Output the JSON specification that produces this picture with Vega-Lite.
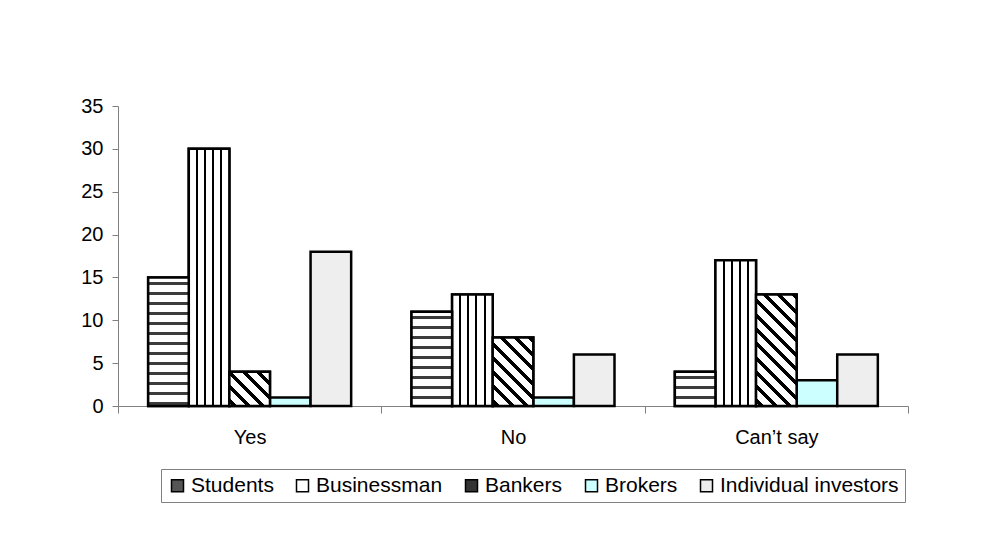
{
  "$schema": "https://vega.github.io/schema/vega-lite/v6.json",
  "width": 790,
  "height": 300,
  "autosize": {"type": "none"},
  "padding": {"left": 118, "top": 106, "right": 73, "bottom": 147},
  "background": "white",
  "config": {
    "font": "Liberation Sans",
    "view": {"stroke": null}
  },
  "data": {
    "values": [
      {"answer": "Yes", "group": "Students", "value": 15},
      {"answer": "Yes", "group": "Businessman", "value": 30},
      {"answer": "Yes", "group": "Bankers", "value": 4},
      {"answer": "Yes", "group": "Brokers", "value": 1},
      {"answer": "Yes", "group": "Individual investors", "value": 18},
      {"answer": "No", "group": "Students", "value": 11},
      {"answer": "No", "group": "Businessman", "value": 13},
      {"answer": "No", "group": "Bankers", "value": 8},
      {"answer": "No", "group": "Brokers", "value": 1},
      {"answer": "No", "group": "Individual investors", "value": 6},
      {"answer": "Can’t say", "group": "Students", "value": 4},
      {"answer": "Can’t say", "group": "Businessman", "value": 17},
      {"answer": "Can’t say", "group": "Bankers", "value": 13},
      {"answer": "Can’t say", "group": "Brokers", "value": 3},
      {"answer": "Can’t say", "group": "Individual investors", "value": 6}
    ]
  },
  "encoding": {
    "x": {
      "field": "answer", "type": "nominal",
      "scale": {"domain": ["Yes", "No", "Can’t say"], "paddingInner": 0, "paddingOuter": 0},
      "axis": {"title": null, "labelAngle": 0, "tickBand": "extent", "tickSize": 7, "tickColor": "#808080", "domainColor": "#808080", "labelFontSize": 20, "labelColor": "black", "labelPadding": 14, "labelFont": "Liberation Sans"}
    },
    "xOffset": {
      "field": "group", "type": "nominal",
      "scale": {"domain": ["Students", "Businessman", "Bankers", "Brokers", "Individual investors"], "paddingInner": 0, "paddingOuter": 0.743}
    },
    "y": {
      "field": "value", "type": "quantitative",
      "scale": {"domain": [0, 35], "nice": false},
      "axis": {"title": null, "grid": false, "values": [0, 5, 10, 15, 20, 25, 30, 35], "tickSize": 6, "tickColor": "#808080", "domainColor": "#808080", "labelFontSize": 20, "labelColor": "black", "labelPadding": 9, "labelFont": "Liberation Sans"}
    }
  },
  "layer": [
    {
      "mark": {"type": "bar", "stroke": "black", "strokeWidth": 2.5},
      "encoding": {
        "color": {
          "field": "group", "type": "nominal",
          "scale": {"domain": ["Students", "Businessman", "Bankers", "Brokers", "Individual investors"], "range": ["#555555", "#ffffff", "#333333", "#ccffff", "#eeeeee"]},
          "legend": {"title": null, "orient": "none", "legendX": 43, "legendY": 363, "direction": "horizontal", "columns": 5, "symbolType": "square", "symbolSize": 144, "symbolStrokeColor": "black", "symbolStrokeWidth": 1.5, "symbolOpacity": 1, "labelFontSize": 21, "labelFont": "Liberation Sans", "labelColor": "black", "strokeColor": "#808080", "fillColor": "white", "padding": 6, "columnPadding": 18, "labelOffset": 3, "labelLimit": 400}
        }
      }
    },
    {
      "transform": [{"filter": "datum.group === 'Businessman'"}],
      "mark": {"type": "bar", "stroke": "black", "strokeWidth": 2.5,
        "fill": {"gradient": "linear", "x1": 0, "y1": 0, "x2": 1, "y2": 0, "stops": [
          {"offset": 0, "color": "#ffffff"}, {"offset": 0.175, "color": "#ffffff"}, {"offset": 0.175, "color": "#000000"}, {"offset": 0.225, "color": "#000000"}, {"offset": 0.225, "color": "#ffffff"},
          {"offset": 0.375, "color": "#ffffff"}, {"offset": 0.375, "color": "#000000"}, {"offset": 0.425, "color": "#000000"}, {"offset": 0.425, "color": "#ffffff"},
          {"offset": 0.575, "color": "#ffffff"}, {"offset": 0.575, "color": "#000000"}, {"offset": 0.625, "color": "#000000"}, {"offset": 0.625, "color": "#ffffff"},
          {"offset": 0.775, "color": "#ffffff"}, {"offset": 0.775, "color": "#000000"}, {"offset": 0.825, "color": "#000000"}, {"offset": 0.825, "color": "#ffffff"},
          {"offset": 1, "color": "#ffffff"}]}}
    },
    {
      "transform": [{"filter": "datum.group === 'Students' && datum.answer === 'Yes'"}],
      "mark": {"type": "bar", "stroke": "black", "strokeWidth": 2.5,
        "fill": {"gradient": "linear", "x1": 0, "y1": 0, "x2": 0, "y2": 1, "stops": [
          {"offset": 0, "color": "#ffffff"},
          {"offset": 0.0350, "color": "#ffffff"}, {"offset": 0.0350, "color": "#3c3c3c"}, {"offset": 0.0583, "color": "#3c3c3c"}, {"offset": 0.0583, "color": "#ffffff"},
          {"offset": 0.1128, "color": "#ffffff"}, {"offset": 0.1128, "color": "#3c3c3c"}, {"offset": 0.1361, "color": "#3c3c3c"}, {"offset": 0.1361, "color": "#ffffff"},
          {"offset": 0.1906, "color": "#ffffff"}, {"offset": 0.1906, "color": "#3c3c3c"}, {"offset": 0.2139, "color": "#3c3c3c"}, {"offset": 0.2139, "color": "#ffffff"},
          {"offset": 0.2683, "color": "#ffffff"}, {"offset": 0.2683, "color": "#3c3c3c"}, {"offset": 0.2917, "color": "#3c3c3c"}, {"offset": 0.2917, "color": "#ffffff"},
          {"offset": 0.3461, "color": "#ffffff"}, {"offset": 0.3461, "color": "#3c3c3c"}, {"offset": 0.3694, "color": "#3c3c3c"}, {"offset": 0.3694, "color": "#ffffff"},
          {"offset": 0.4239, "color": "#ffffff"}, {"offset": 0.4239, "color": "#3c3c3c"}, {"offset": 0.4472, "color": "#3c3c3c"}, {"offset": 0.4472, "color": "#ffffff"},
          {"offset": 0.5017, "color": "#ffffff"}, {"offset": 0.5017, "color": "#3c3c3c"}, {"offset": 0.5250, "color": "#3c3c3c"}, {"offset": 0.5250, "color": "#ffffff"},
          {"offset": 0.5794, "color": "#ffffff"}, {"offset": 0.5794, "color": "#3c3c3c"}, {"offset": 0.6028, "color": "#3c3c3c"}, {"offset": 0.6028, "color": "#ffffff"},
          {"offset": 0.6572, "color": "#ffffff"}, {"offset": 0.6572, "color": "#3c3c3c"}, {"offset": 0.6806, "color": "#3c3c3c"}, {"offset": 0.6806, "color": "#ffffff"},
          {"offset": 0.7350, "color": "#ffffff"}, {"offset": 0.7350, "color": "#3c3c3c"}, {"offset": 0.7583, "color": "#3c3c3c"}, {"offset": 0.7583, "color": "#ffffff"},
          {"offset": 0.8128, "color": "#ffffff"}, {"offset": 0.8128, "color": "#3c3c3c"}, {"offset": 0.8361, "color": "#3c3c3c"}, {"offset": 0.8361, "color": "#ffffff"},
          {"offset": 0.8906, "color": "#ffffff"}, {"offset": 0.8906, "color": "#3c3c3c"}, {"offset": 0.9139, "color": "#3c3c3c"}, {"offset": 0.9139, "color": "#ffffff"},
          {"offset": 0.9683, "color": "#ffffff"}, {"offset": 0.9683, "color": "#3c3c3c"}, {"offset": 0.9917, "color": "#3c3c3c"}, {"offset": 0.9917, "color": "#ffffff"},
          {"offset": 1, "color": "#ffffff"}]}}
    },
    {
      "transform": [{"filter": "datum.group === 'Students' && datum.answer === 'No'"}],
      "mark": {"type": "bar", "stroke": "black", "strokeWidth": 2.5,
        "fill": {"gradient": "linear", "x1": 0, "y1": 0, "x2": 0, "y2": 1, "stops": [
          {"offset": 0, "color": "#ffffff"},
          {"offset": 0.0477, "color": "#ffffff"}, {"offset": 0.0477, "color": "#3c3c3c"}, {"offset": 0.0795, "color": "#3c3c3c"}, {"offset": 0.0795, "color": "#ffffff"},
          {"offset": 0.1538, "color": "#ffffff"}, {"offset": 0.1538, "color": "#3c3c3c"}, {"offset": 0.1856, "color": "#3c3c3c"}, {"offset": 0.1856, "color": "#ffffff"},
          {"offset": 0.2598, "color": "#ffffff"}, {"offset": 0.2598, "color": "#3c3c3c"}, {"offset": 0.2917, "color": "#3c3c3c"}, {"offset": 0.2917, "color": "#ffffff"},
          {"offset": 0.3659, "color": "#ffffff"}, {"offset": 0.3659, "color": "#3c3c3c"}, {"offset": 0.3977, "color": "#3c3c3c"}, {"offset": 0.3977, "color": "#ffffff"},
          {"offset": 0.4720, "color": "#ffffff"}, {"offset": 0.4720, "color": "#3c3c3c"}, {"offset": 0.5038, "color": "#3c3c3c"}, {"offset": 0.5038, "color": "#ffffff"},
          {"offset": 0.5780, "color": "#ffffff"}, {"offset": 0.5780, "color": "#3c3c3c"}, {"offset": 0.6098, "color": "#3c3c3c"}, {"offset": 0.6098, "color": "#ffffff"},
          {"offset": 0.6841, "color": "#ffffff"}, {"offset": 0.6841, "color": "#3c3c3c"}, {"offset": 0.7159, "color": "#3c3c3c"}, {"offset": 0.7159, "color": "#ffffff"},
          {"offset": 0.7901, "color": "#ffffff"}, {"offset": 0.7901, "color": "#3c3c3c"}, {"offset": 0.8220, "color": "#3c3c3c"}, {"offset": 0.8220, "color": "#ffffff"},
          {"offset": 0.8962, "color": "#ffffff"}, {"offset": 0.8962, "color": "#3c3c3c"}, {"offset": 0.9280, "color": "#3c3c3c"}, {"offset": 0.9280, "color": "#ffffff"},
          {"offset": 1, "color": "#ffffff"}]}}
    },
    {
      "transform": [{"filter": "datum.group === 'Students' && datum.answer === 'Can’t say'"}],
      "mark": {"type": "bar", "stroke": "black", "strokeWidth": 2.5,
        "fill": {"gradient": "linear", "x1": 0, "y1": 0, "x2": 0, "y2": 1, "stops": [
          {"offset": 0, "color": "#ffffff"},
          {"offset": 0.1312, "color": "#ffffff"}, {"offset": 0.1312, "color": "#3c3c3c"}, {"offset": 0.2187, "color": "#3c3c3c"}, {"offset": 0.2187, "color": "#ffffff"},
          {"offset": 0.4229, "color": "#ffffff"}, {"offset": 0.4229, "color": "#3c3c3c"}, {"offset": 0.5104, "color": "#3c3c3c"}, {"offset": 0.5104, "color": "#ffffff"},
          {"offset": 0.7145, "color": "#ffffff"}, {"offset": 0.7145, "color": "#3c3c3c"}, {"offset": 0.8020, "color": "#3c3c3c"}, {"offset": 0.8020, "color": "#ffffff"},
          {"offset": 1, "color": "#ffffff"}]}}
    },
    {
      "transform": [{"filter": "datum.group === 'Bankers' && datum.answer === 'Yes'"}],
      "mark": {"type": "bar", "stroke": "black", "strokeWidth": 2.5,
        "fill": {"gradient": "linear", "x1": 0, "y1": 1, "x2": 1.0766, "y2": 0.0907, "stops": [
          {"offset": 0, "color": "#ffffff"},
          {"offset": 0.0401, "color": "#ffffff"}, {"offset": 0.0401, "color": "#000000"}, {"offset": 0.1068, "color": "#000000"}, {"offset": 0.1068, "color": "#ffffff"},
          {"offset": 0.2310, "color": "#ffffff"}, {"offset": 0.2310, "color": "#000000"}, {"offset": 0.2978, "color": "#000000"}, {"offset": 0.2978, "color": "#ffffff"},
          {"offset": 0.4220, "color": "#ffffff"}, {"offset": 0.4220, "color": "#000000"}, {"offset": 0.4887, "color": "#000000"}, {"offset": 0.4887, "color": "#ffffff"},
          {"offset": 0.6129, "color": "#ffffff"}, {"offset": 0.6129, "color": "#000000"}, {"offset": 0.6797, "color": "#000000"}, {"offset": 0.6797, "color": "#ffffff"},
          {"offset": 0.8038, "color": "#ffffff"}, {"offset": 0.8038, "color": "#000000"}, {"offset": 0.8706, "color": "#000000"}, {"offset": 0.8706, "color": "#ffffff"},
          {"offset": 1, "color": "#ffffff"}]}}
    },
    {
      "transform": [{"filter": "datum.group === 'Bankers' && datum.answer === 'No'"}],
      "mark": {"type": "bar", "stroke": "black", "strokeWidth": 2.5,
        "fill": {"gradient": "linear", "x1": 0, "y1": 1, "x2": 0.6980, "y2": -0.1788, "stops": [
          {"offset": 0, "color": "#ffffff"},
          {"offset": 0.0275, "color": "#ffffff"}, {"offset": 0.0275, "color": "#000000"}, {"offset": 0.0733, "color": "#000000"}, {"offset": 0.0733, "color": "#ffffff"},
          {"offset": 0.1585, "color": "#ffffff"}, {"offset": 0.1585, "color": "#000000"}, {"offset": 0.2043, "color": "#000000"}, {"offset": 0.2043, "color": "#ffffff"},
          {"offset": 0.2895, "color": "#ffffff"}, {"offset": 0.2895, "color": "#000000"}, {"offset": 0.3353, "color": "#000000"}, {"offset": 0.3353, "color": "#ffffff"},
          {"offset": 0.4204, "color": "#ffffff"}, {"offset": 0.4204, "color": "#000000"}, {"offset": 0.4662, "color": "#000000"}, {"offset": 0.4662, "color": "#ffffff"},
          {"offset": 0.5514, "color": "#ffffff"}, {"offset": 0.5514, "color": "#000000"}, {"offset": 0.5972, "color": "#000000"}, {"offset": 0.5972, "color": "#ffffff"},
          {"offset": 0.6824, "color": "#ffffff"}, {"offset": 0.6824, "color": "#000000"}, {"offset": 0.7282, "color": "#000000"}, {"offset": 0.7282, "color": "#ffffff"},
          {"offset": 0.8134, "color": "#ffffff"}, {"offset": 0.8134, "color": "#000000"}, {"offset": 0.8592, "color": "#000000"}, {"offset": 0.8592, "color": "#ffffff"},
          {"offset": 0.9444, "color": "#ffffff"}, {"offset": 0.9444, "color": "#000000"}, {"offset": 0.9902, "color": "#000000"}, {"offset": 0.9902, "color": "#ffffff"},
          {"offset": 1, "color": "#ffffff"}]}}
    },
    {
      "transform": [{"filter": "datum.group === 'Bankers' && datum.answer === 'Can’t say'"}],
      "mark": {"type": "bar", "stroke": "black", "strokeWidth": 2.5,
        "fill": {"gradient": "linear", "x1": 0, "y1": 1, "x2": 0.4388, "y2": -0.2045, "stops": [
          {"offset": 0, "color": "#ffffff"},
          {"offset": 0.0197, "color": "#ffffff"}, {"offset": 0.0197, "color": "#000000"}, {"offset": 0.0526, "color": "#000000"}, {"offset": 0.0526, "color": "#ffffff"},
          {"offset": 0.1138, "color": "#ffffff"}, {"offset": 0.1138, "color": "#000000"}, {"offset": 0.1467, "color": "#000000"}, {"offset": 0.1467, "color": "#ffffff"},
          {"offset": 0.2079, "color": "#ffffff"}, {"offset": 0.2079, "color": "#000000"}, {"offset": 0.2407, "color": "#000000"}, {"offset": 0.2407, "color": "#ffffff"},
          {"offset": 0.3019, "color": "#ffffff"}, {"offset": 0.3019, "color": "#000000"}, {"offset": 0.3348, "color": "#000000"}, {"offset": 0.3348, "color": "#ffffff"},
          {"offset": 0.3960, "color": "#ffffff"}, {"offset": 0.3960, "color": "#000000"}, {"offset": 0.4289, "color": "#000000"}, {"offset": 0.4289, "color": "#ffffff"},
          {"offset": 0.4900, "color": "#ffffff"}, {"offset": 0.4900, "color": "#000000"}, {"offset": 0.5229, "color": "#000000"}, {"offset": 0.5229, "color": "#ffffff"},
          {"offset": 0.5841, "color": "#ffffff"}, {"offset": 0.5841, "color": "#000000"}, {"offset": 0.6170, "color": "#000000"}, {"offset": 0.6170, "color": "#ffffff"},
          {"offset": 0.6782, "color": "#ffffff"}, {"offset": 0.6782, "color": "#000000"}, {"offset": 0.7110, "color": "#000000"}, {"offset": 0.7110, "color": "#ffffff"},
          {"offset": 0.7722, "color": "#ffffff"}, {"offset": 0.7722, "color": "#000000"}, {"offset": 0.8051, "color": "#000000"}, {"offset": 0.8051, "color": "#ffffff"},
          {"offset": 0.8663, "color": "#ffffff"}, {"offset": 0.8663, "color": "#000000"}, {"offset": 0.8992, "color": "#000000"}, {"offset": 0.8992, "color": "#ffffff"},
          {"offset": 0.9603, "color": "#ffffff"}, {"offset": 0.9603, "color": "#000000"}, {"offset": 0.9932, "color": "#000000"}, {"offset": 0.9932, "color": "#ffffff"},
          {"offset": 1, "color": "#ffffff"}]}}
    }
  ]
}
